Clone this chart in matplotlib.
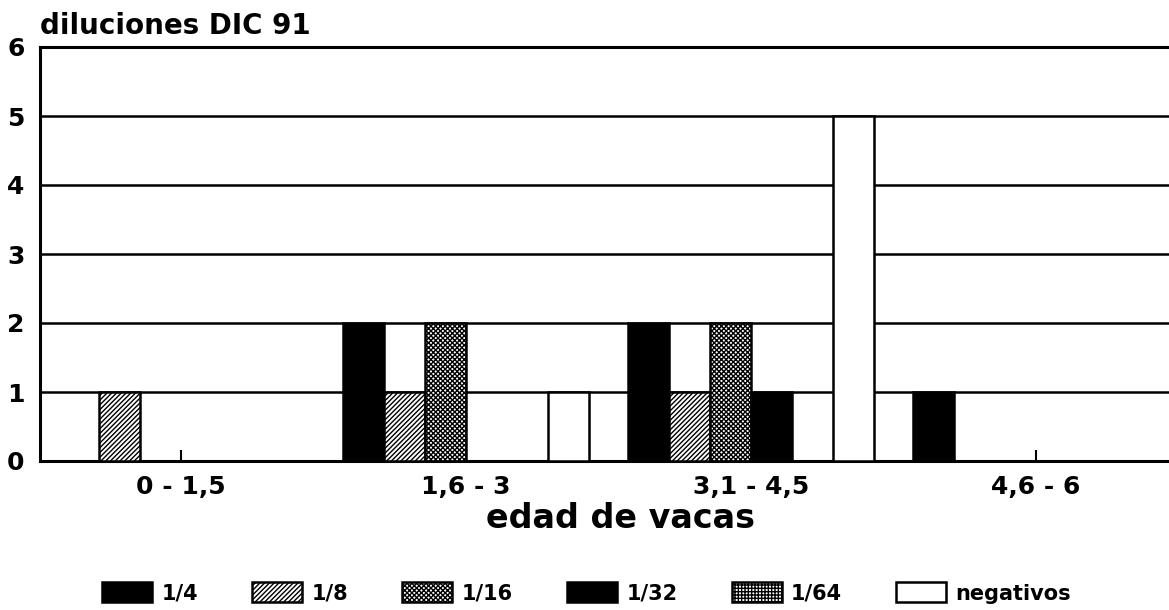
import numpy as np
import matplotlib
matplotlib.use('Agg')
import matplotlib.pyplot as plt

plt.rcParams['font.family'] = ['DejaVu Sans']
plt.rcParams['font.weight'] = 'bold'
plt.rcParams['hatch.linewidth'] = 1.0

# data
grupos = ['0 - 1,5', '1,6 - 3', '3,1 - 4,5', '4,6 - 6']
series = ['1/4', '1/8', '1/16', '1/32', '1/64', 'negativos']
d_1_4 = [0, 2, 2, 1]
d_1_8 = [1, 1, 1, 0]
d_1_16 = [0, 2, 2, 0]
d_1_32 = [0, 0, 1, 0]
d_1_64 = [0, 0, 0, 0]
d_neg = [0, 1, 5, 0]
valores = [d_1_4, d_1_8, d_1_16, d_1_32, d_1_64, d_neg]

# styles
colores = ['black', 'white', 'white', 'black', 'white', 'white']
tramas = [None, '/' * 7, 'x' * 7, None, '+' * 5, None]

fig = plt.figure(figsize=(11.69, 6.10), dpi=100)
ax = fig.add_axes([40 / 1169, 149 / 610, 1 - 40 / 1169, 414 / 610])

x = np.arange(len(grupos))
w = 0.1439
for j, vals in enumerate(valores):
    ax.bar(x + (j - 2.5) * w, vals, w, color=colores[j], hatch=tramas[j],
           edgecolor='black', linewidth=1.8, label=series[j], zorder=3)

ax.set_xlim(-0.495, 3.467)
ax.set_ylim(0, 6)
ax.set_yticks(range(7))
ax.set_axisbelow(True)
ax.yaxis.grid(True, color='black', linewidth=1.8)

for s in ['left', 'bottom', 'top']:
    ax.spines[s].set_linewidth(2.2)
ax.spines['right'].set_visible(False)

ax.set_xticks(x, grupos, fontsize=18, fontweight='bold')
ax.tick_params(axis='x', direction='in', length=8, width=1.5, pad=10)
ax.tick_params(axis='y', length=0, pad=11, labelsize=18)

ax.set_xlabel('edad de vacas', fontsize=24, fontweight='bold', va='top')
ax.xaxis.set_label_coords(0.514, -0.1)

ax.set_title('diluciones DIC 91', loc='left', fontsize=20, fontweight='bold', pad=9)

fig.legend(loc='center left', bbox_to_anchor=(102 / 1169, 17 / 610), ncol=6,
           frameon=False, fontsize=15, handlelength=2.4, handleheight=1.1,
           handletextpad=0.45, columnspacing=2.6, borderpad=0, borderaxespad=0)

fig.savefig('out.png', dpi=100)
